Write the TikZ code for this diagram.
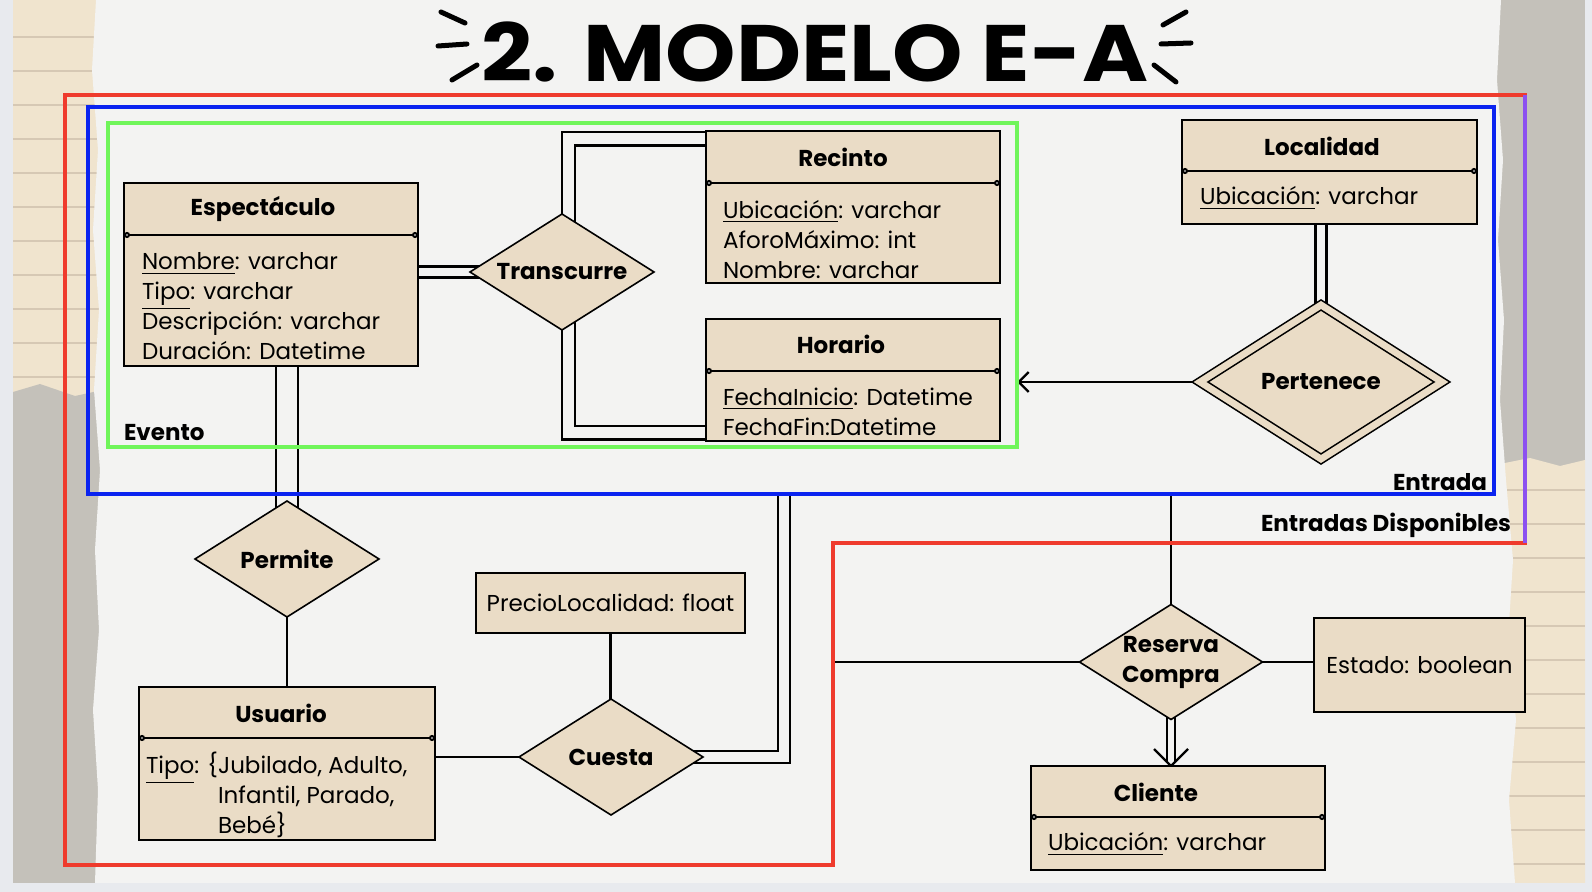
\documentclass[tikz,border=0pt]{standalone}
\usepackage{fontspec}
\setmainfont{Poppins}
\usepackage{graphicx}
\usetikzlibrary{arrows.meta}
\usetikzlibrary{shapes.geometric}
\definecolor{papel}{RGB}{243,243,242}
\definecolor{marco}{RGB}{232,234,238}
\definecolor{beige}{RGB}{234,220,198}
\definecolor{papelbeige}{RGB}{240,228,206}
\definecolor{papelgris}{RGB}{196,193,186}
\definecolor{raya}{RGB}{214,200,180}
\definecolor{rojo}{RGB}{239,59,45}
\definecolor{azul}{RGB}{10,35,240}
\definecolor{verde}{RGB}{112,245,90}
\definecolor{morado}{RGB}{140,80,240}
\pgfdeclarelayer{paper}
\pgfdeclarelayer{edges}
\pgfsetlayers{paper,edges,main}

\begin{document}
\begin{tikzpicture}[x=0.5pt,y=0.5pt,yscale=-1,xscale=1,
  every node/.style={inner sep=0pt,outer sep=0pt},
  caja/.style={draw=black,line width=1pt,fill=beige,rectangle,font=\fontsize{11.5}{15}\selectfont},
  rombo/.style={draw=black,line width=0.8pt,fill=beige,diamond,aspect=1.6,align=center,font=\bfseries\fontsize{11.5}{15}\selectfont},
  titulo/.style={font=\bfseries\fontsize{11.5}{15}\selectfont},
  atrib/.style={anchor=west,align=left,font=\fontsize{11.5}{15}\selectfont,execute at begin node={\lineskiplimit=-20pt}},
  separa/.style={line width=1pt,{Circle[open,fill=white,length=3pt,width=3pt]}-{Circle[open,fill=white,length=3pt,width=3pt]}},
  linea/.style={line width=1.2pt},
  doble/.style={line width=1.2pt,double=papel,double distance=#1},
  grupo/.style={rectangle,line width=2.2pt},
  marca/.style={line width=2.5pt,line cap=round}
]
\useasboundingbox (0,0) rectangle (1592,892);
%Background paper
\begin{pgfonlayer}{paper}
\fill[marco] (0,0) rectangle (1592,892);
\fill[papelbeige] (13,0) rectangle (112,400);
\foreach \y in {37,71,...,390} {\draw[raya,line width=0.6pt] (13,\y) -- (112,\y);}
\fill[papelgris] (13,392) -- (40,384) -- (75,396) -- (112,388) -- (112,883) -- (13,883) -- cycle;
\fill[papelgris] (1480,0) rectangle (1585,475);
\fill[papelbeige] (1480,468) -- (1530,458) -- (1560,466) -- (1585,460) -- (1585,883) -- (1480,883) -- cycle;
\foreach \y in {490,524,...,880} {\draw[raya,line width=0.6pt] (1480,\y) -- (1585,\y);}
\fill[papel] (96,0) -- (92,70) -- (98,150) -- (93,230) -- (99,310) -- (94,390) -- (100,470) -- (95,550) -- (99,630) -- (93,710) -- (98,790) -- (95,883) -- (1515,883) -- (1509,800) -- (1516,720) -- (1508,640) -- (1513,560) -- (1506,480) -- (1500,400) -- (1504,320) -- (1498,240) -- (1503,160) -- (1497,80) -- (1501,0) -- cycle;
\end{pgfonlayer}

% Text Node
\node[font=\bfseries\fontsize{40}{40}\selectfont] (cabecera) at (815,52) {\scalebox{1.12}[1]{2. MODELO E-A}};
%Straight Lines
\draw[marca] (441,12) -- (465,23);
\draw[marca] (438,46) -- (467,44);
\draw[marca] (452,80) -- (477,65);
\draw[marca] (1163,25) -- (1186,12);
\draw[marca] (1161,44) -- (1191,43);
\draw[marca] (1154,65) -- (1176,82);

%Shape: Rectangle
\node[grupo,draw=verde,minimum width=454.5pt,minimum height=162pt] (evento) at (562.5,285) {};
%Shape: Rectangle
\node[grupo,draw=azul,minimum width=703pt,minimum height=193.5pt] (entrada) at (791,300.5) {};
%Shape: Polygon
\coordinate (dispo) at (833,543);
\draw[rojo,line width=2pt] (65,95) -- (1525,95) -- (1525,543) -- (dispo) -- (833,865) -- (65,865) -- cycle;
\draw[morado,line width=1.8pt] (1525,95) -- (1525,543);
% Text Node
\node[titulo,anchor=west] (lblEvento) at (124,433) {Evento};
% Text Node
\node[titulo,anchor=east] (lblEntrada) at (1487,482) {Entrada};
% Text Node
\node[titulo,anchor=east] (lblDispo) at (1511,525) {Entradas Disponibles};

%Shape: Rectangle
\node[caja,minimum width=147pt,minimum height=91.5pt] (espec) at (271,274.5) {};
\draw[separa] (124,235) -- (418,235);
\node[titulo] (especT) at (263,209) {Espectáculo};
\node[atrib] (especA) at (142,306.5) {\underline{Nombre}: varchar\\\underline{Tipo}: varchar\\Descripción: varchar\\Duración: Datetime};

%Shape: Rectangle
\node[caja,minimum width=147pt,minimum height=76pt] (recinto) at (853,207) {};
\draw[separa] (706,183) -- (1000,183);
\node[titulo] (recintoT) at (843,157) {Recinto};
\node[atrib] (recintoA) at (723,239.5) {\underline{Ubicación}: varchar\\AforoMáximo: int\\Nombre: varchar};

%Shape: Rectangle
\node[caja,minimum width=147pt,minimum height=61pt] (horario) at (853,380) {};
\draw[separa] (706,371) -- (1000,371);
\node[titulo] (horarioT) at (841,344) {Horario};
\node[atrib] (horarioA) at (723,412) {\underline{FechaInicio}: Datetime\\FechaFin:Datetime};

%Shape: Rectangle
\node[caja,minimum width=147.5pt,minimum height=52pt] (localidad) at (1329.5,172) {};
\draw[separa] (1182,171) -- (1477,171);
\node[titulo] (localidadT) at (1322,146) {Localidad};
\node[atrib] (localidadA) at (1200,198) {\underline{Ubicación}: varchar};

%Shape: Rectangle
\node[caja,minimum width=148pt,minimum height=76.5pt] (usuario) at (287,763.5) {};
\draw[separa] (139,738) -- (435,738);
\node[titulo] (usuarioT) at (281,713) {Usuario};
\node[atrib] (usuarioA) at (146,798) {\underline{Tipo}: \{Jubilado, Adulto,\\\phantom{\underline{Tipo}: \{}Infantil, Parado,\\\phantom{\underline{Tipo}: \{}Bebé\}};

%Shape: Rectangle
\node[caja,minimum width=147pt,minimum height=52pt] (cliente) at (1178,818) {};
\draw[separa] (1031,817) -- (1325,817);
\node[titulo] (clienteT) at (1156,792) {Cliente};
\node[atrib] (clienteA) at (1048,844) {\underline{Ubicación}: varchar};

%Shape: Rectangle
\node[caja,minimum width=134.5pt,minimum height=30pt] (precio) at (610.5,603) {PrecioLocalidad: float};
%Shape: Rectangle
\node[caja,minimum width=105.5pt,minimum height=47pt] (estado) at (1419.5,665) {Estado: boolean};

%Shape: Diamond
\node[rombo,minimum width=92pt,minimum height=58pt] (trans) at (562,272) {Transcurre};
\node[rombo,minimum width=92pt,minimum height=58pt] (permite) at (287,559) {Permite};
\node[rombo,minimum width=92pt,minimum height=58pt] (cuesta) at (611,757) {Cuesta};
\node[rombo,minimum width=91.5pt,minimum height=57.5pt] (reserva) at (1171,662) {Reserva\\Compra};
\node[rombo,double=beige,double distance=3.4pt,minimum width=121pt,minimum height=77pt] (pert) at (1321,382) {Pertenece};

%Straight Lines
\coordinate (punta) at (reserva |- cliente.north);
\begin{pgfonlayer}{edges}
\draw[doble=4.3pt] (espec |- trans) -- (trans.center);
\draw[doble=5.5pt] ([xshift=3.25pt]trans.center) |- ([yshift=4pt]recinto.north west);
\draw[doble=5.5pt] ([xshift=3.25pt]trans.center) |- ([yshift=-4pt]horario.south west);
\draw[doble=9.8pt] (permite.center) -- (permite |- espec.south);
\draw[linea] (permite.south) -- (permite.south |- usuario.north);
\draw[linea] (usuario.east |- cuesta) -- (cuesta.west);
\draw[linea] (precio.south) -- (precio.south |- cuesta.north);
\draw[doble=4.8pt] (cuesta.center) -| ([xshift=-3.5pt]entrada.south);
\draw[doble=4.3pt] (pert.center) -- (pert |- localidad.south);
\draw[linea,-{Straight Barb[length=5pt,width=10pt]}] (pert.center) -- (pert -| evento.east);
\draw[linea] (reserva.north) -- (reserva |- entrada.south);
\draw[linea] (reserva.west) -- (reserva.west -| dispo);
\draw[linea] (reserva.east) -- (reserva.east -| estado.west);
\draw[doble=2.8pt] (reserva.center) -- ([shift={(0,-4)}]punta);
\draw[linea,line join=miter] ([shift={(-17,-17)}]punta) -- (punta) -- ([shift={(17,-17)}]punta);
\end{pgfonlayer}
\end{tikzpicture}
\end{document}
